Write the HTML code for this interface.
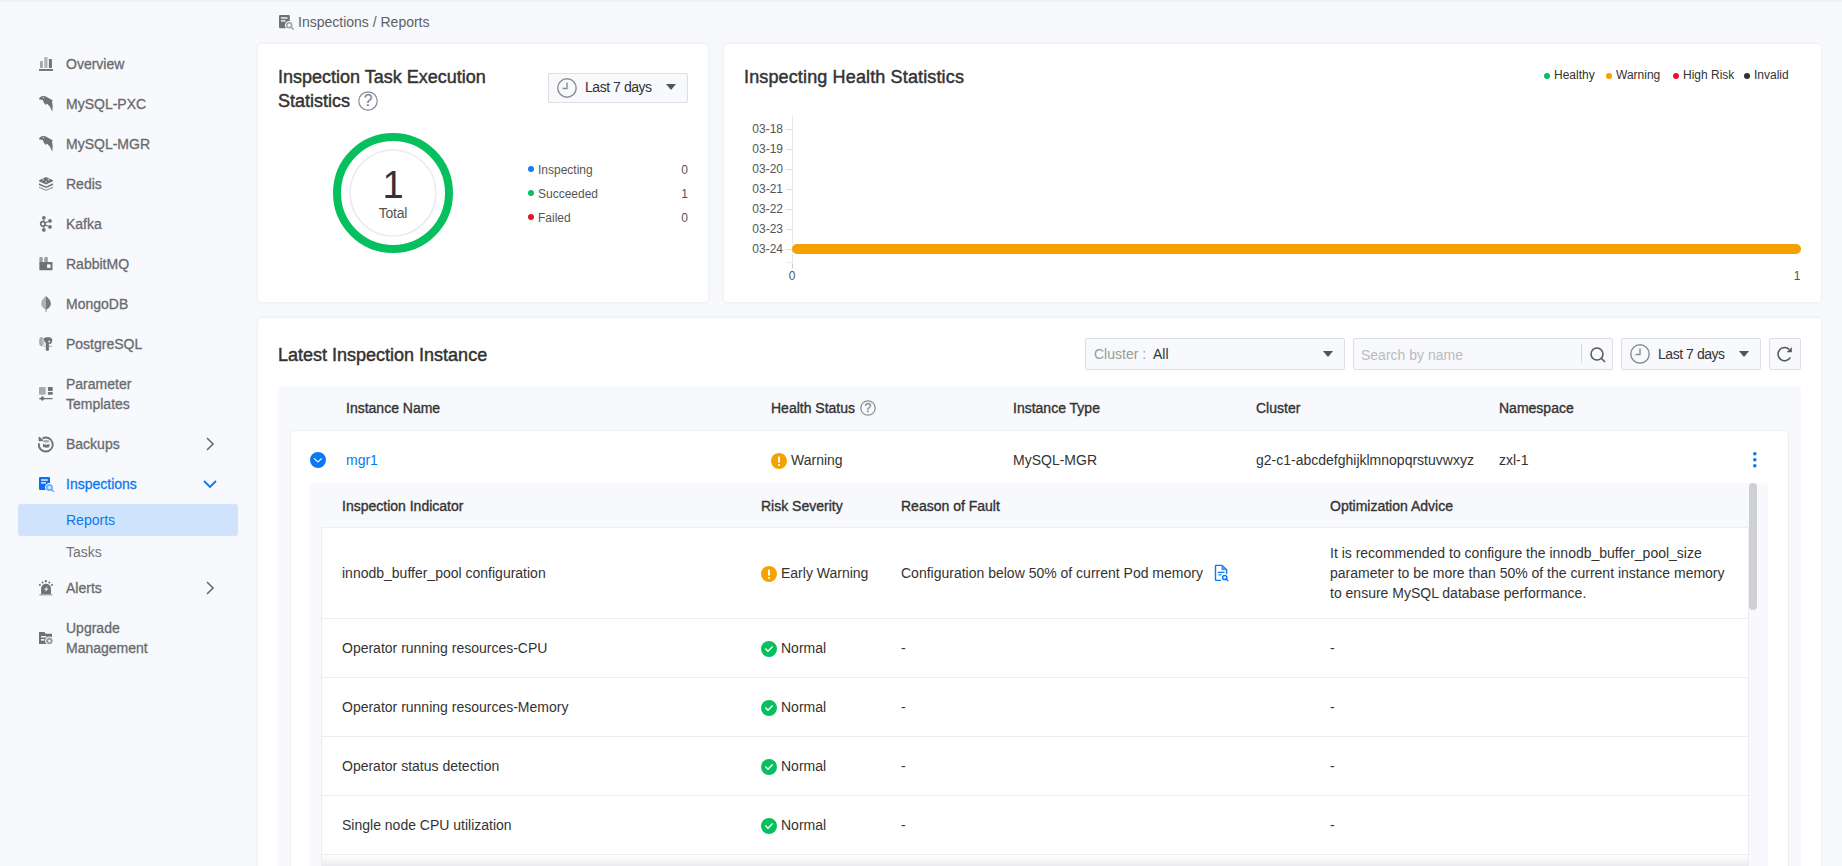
<!DOCTYPE html>
<html><head><meta charset="utf-8"><style>
html,body{margin:0;padding:0;}
body{width:1842px;height:866px;overflow:hidden;position:relative;background:#f7f9fc;font-family:"Liberation Sans",sans-serif;}
.t{position:absolute;white-space:nowrap;}
svg{overflow:visible}
</style></head><body>
<div style="position:absolute;left:0px;top:0px;width:1842px;height:3px;background:linear-gradient(#eceef2,rgba(247,248,251,0))"></div>
<div style="position:absolute;left:18px;top:504px;width:220px;height:32px;background:#cfe3fc;border-radius:3px"></div>
<div class="t" style="left:66px;top:57.15px;font-size:14px;line-height:14px;color:#696a6e;-webkit-text-stroke:0.3px #696a6e;">Overview</div>
<div class="t" style="left:66px;top:97.15px;font-size:14px;line-height:14px;color:#696a6e;-webkit-text-stroke:0.3px #696a6e;">MySQL-PXC</div>
<div class="t" style="left:66px;top:137.15px;font-size:14px;line-height:14px;color:#696a6e;-webkit-text-stroke:0.3px #696a6e;">MySQL-MGR</div>
<div class="t" style="left:66px;top:177.15px;font-size:14px;line-height:14px;color:#696a6e;-webkit-text-stroke:0.3px #696a6e;">Redis</div>
<div class="t" style="left:66px;top:217.15px;font-size:14px;line-height:14px;color:#696a6e;-webkit-text-stroke:0.3px #696a6e;">Kafka</div>
<div class="t" style="left:66px;top:257.15px;font-size:14px;line-height:14px;color:#696a6e;-webkit-text-stroke:0.3px #696a6e;">RabbitMQ</div>
<div class="t" style="left:66px;top:297.15px;font-size:14px;line-height:14px;color:#696a6e;-webkit-text-stroke:0.3px #696a6e;">MongoDB</div>
<div class="t" style="left:66px;top:337.15px;font-size:14px;line-height:14px;color:#696a6e;-webkit-text-stroke:0.3px #696a6e;">PostgreSQL</div>
<div class="t" style="left:66px;top:377.15px;font-size:14px;line-height:14px;color:#696a6e;-webkit-text-stroke:0.3px #696a6e;">Parameter</div>
<div class="t" style="left:66px;top:397.15px;font-size:14px;line-height:14px;color:#696a6e;-webkit-text-stroke:0.3px #696a6e;">Templates</div>
<div class="t" style="left:66px;top:437.15px;font-size:14px;line-height:14px;color:#696a6e;-webkit-text-stroke:0.3px #696a6e;">Backups</div>
<div class="t" style="left:66px;top:477.15px;font-size:14px;line-height:14px;color:#0b78f3;-webkit-text-stroke:0.3px #0b78f3;">Inspections</div>
<div class="t" style="left:66px;top:581.15px;font-size:14px;line-height:14px;color:#696a6e;-webkit-text-stroke:0.3px #696a6e;">Alerts</div>
<div class="t" style="left:66px;top:621.15px;font-size:14px;line-height:14px;color:#696a6e;-webkit-text-stroke:0.3px #696a6e;">Upgrade</div>
<div class="t" style="left:66px;top:641.15px;font-size:14px;line-height:14px;color:#696a6e;-webkit-text-stroke:0.3px #696a6e;">Management</div>
<div class="t" style="left:66px;top:513.15px;font-size:14px;line-height:14px;color:#0b78f3;">Reports</div>
<div class="t" style="left:66px;top:545.15px;font-size:14px;line-height:14px;color:#747579;">Tasks</div>
<svg style="position:absolute;left:205px;top:437px" width="10" height="14" viewBox="0 0 10 14"><path d="M2 1 L8 7 L2 13" fill="none" stroke="#6a6a6a" stroke-width="1.6"/></svg>
<svg style="position:absolute;left:203px;top:479px" width="14" height="10" viewBox="0 0 14 10"><path d="M1 2 L7 8 L13 2" fill="none" stroke="#0b78f3" stroke-width="1.8"/></svg>
<svg style="position:absolute;left:205px;top:581px" width="10" height="14" viewBox="0 0 10 14"><path d="M2 1 L8 7 L2 13" fill="none" stroke="#6a6a6a" stroke-width="1.6"/></svg>
<svg style="position:absolute;left:39px;top:57px" width="14" height="14" viewBox="0 0 14 14"><rect x="0" y="12" width="14" height="1.9" fill="#707175"/><rect x="1" y="3.9" width="2.9" height="7" rx=".5" fill="#a7a8ac"/><rect x="5.3" y="0" width="3.2" height="10.9" rx=".5" fill="#b2b3b7"/><rect x="9.9" y="2" width="3" height="8.9" rx=".5" fill="#707175"/></svg>
<svg style="position:absolute;left:39px;top:96px" width="14" height="16" viewBox="0 0 14 16"><path d="M0 2.7 C1 1.2 2.5 0.1 4 0.1 C6 0.1 7.5 0.8 9 1.8 L14 4.4 L12.8 5.7 C13.8 8 14 11 13.2 15.8 C12 12.5 11 10.5 9.5 9.2 L8.5 7.8 L6.7 8.7 L4.8 6.8 L3.9 4 L0.2 3.6 Z" fill="#707175"/><circle cx="4.4" cy="1.6" r=".7" fill="#f7f8fb"/></svg>
<svg style="position:absolute;left:39px;top:136px" width="14" height="16" viewBox="0 0 14 16"><path d="M0 2.7 C1 1.2 2.5 0.1 4 0.1 C6 0.1 7.5 0.8 9 1.8 L14 4.4 L12.8 5.7 C13.8 8 14 11 13.2 15.8 C12 12.5 11 10.5 9.5 9.2 L8.5 7.8 L6.7 8.7 L4.8 6.8 L3.9 4 L0.2 3.6 Z" fill="#707175"/><circle cx="4.4" cy="1.6" r=".7" fill="#f7f8fb"/></svg>
<svg style="position:absolute;left:39px;top:177px" width="14" height="14" viewBox="0 0 14 14"><path d="M7 0 L14 3.3 L14 4.3 L7 7.6 L0 4.3 L0 3.3 Z" fill="#707175"/><circle cx="4.2" cy="2.7" r=".9" fill="#c9cacd"/><circle cx="9.5" cy="2.7" r=".9" fill="#c9cacd"/><circle cx="7" cy="4.8" r=".9" fill="#c9cacd"/><path d="M0 6.3 L7 9.5 L14 6.3 L14 7.9 L7 11.1 L0 7.9 Z" fill="#707175"/><path d="M0 9.6 L7 12.6 L14 9.6 L14 11 L7 14 L0 11 Z" fill="#a7a8ac"/></svg>
<svg style="position:absolute;left:39px;top:216px" width="14" height="16" viewBox="0 0 14 16"><circle cx="4.85" cy="1.85" r="1.85" fill="#707175"/><circle cx="4.85" cy="13.9" r="1.85" fill="#707175"/><circle cx="3.9" cy="7.9" r="2.2" fill="none" stroke="#707175" stroke-width="1.8"/><circle cx="11" cy="4.9" r="1.85" fill="#707175"/><circle cx="11" cy="10.9" r="1.85" fill="#707175"/><path d="M4.7 3.5 V5.8 M4.7 10 V12.2 M5.8 7 L9.5 5.5 M5.8 8.8 L9.5 10.3" stroke="#707175" stroke-width="1.1"/></svg>
<svg style="position:absolute;left:39px;top:257px" width="14" height="14" viewBox="0 0 14 14"><rect x=".35" y="0" width="3.35" height="5.5" rx="1" fill="#9c9da1"/><rect x="5.3" y="0" width="3.5" height="5.5" rx="1" fill="#9c9da1"/><rect x=".35" y="4.9" width="13.15" height="8.3" rx=".6" fill="#707175"/><rect x="8.1" y="7.4" width="3.4" height="3.5" fill="#fff"/></svg>
<svg style="position:absolute;left:39px;top:296px" width="14" height="16" viewBox="0 0 14 16"><path d="M7 0 C9.5 2 11.9 4.8 11.9 7.8 C11.9 10.5 9.5 12.6 7 13.7 Z" fill="#77787c"/><path d="M7 0 C4.5 2 2.1 4.8 2.1 7.8 C2.1 10.5 4.5 12.6 7 13.7 Z" fill="#afb0b4"/><rect x="6.3" y="13" width="1.4" height="2.8" fill="#a0a1a5"/></svg>
<svg style="position:absolute;left:39px;top:337px" width="14" height="14" viewBox="0 0 14 14"><ellipse cx="2.4" cy="4.6" rx="2.3" ry="4.7" fill="#a9aaae"/><rect x="3.3" y="1.5" width="2" height="6" fill="#c4c5c8"/><path d="M4.6 1.6 C5.5 0.3 8 0 10 0.2 C12 0.4 13.4 1.5 13.3 3.5 C13.2 5.5 12.3 6.5 11.2 7.2 L9.9 6.5 L9.9 13 C9.9 14.2 6.8 14.2 6.8 13 L6.8 5.8 C5.8 5.2 5 4 4.6 1.6 Z" fill="#707175"/><circle cx="10.2" cy="4.6" r="1.1" fill="#d8d9dc"/><path d="M9.9 9.3 H13.2" stroke="#a9aaae" stroke-width="1"/><circle cx="5.3" cy="9.3" r=".8" fill="#a9aaae"/></svg>
<svg style="position:absolute;left:39px;top:387px" width="14" height="14" viewBox="0 0 14 14"><rect x="0" y="0" width="6.6" height="7.7" rx=".4" fill="#a9aaae"/><rect x="8.9" y="0" width="4.8" height="3.9" rx=".4" fill="#707175"/><rect x="8.9" y="5" width="4.8" height="2.8" rx=".4" fill="#707175"/><rect x="0" y="10.9" width="13.7" height="1.3" rx=".6" fill="#707175"/><path d="M3.4 9 L5.9 11.5 L3.4 14 L0.9 11.5 Z" fill="#707175"/></svg>
<svg style="position:absolute;left:38px;top:436px" width="16" height="16" viewBox="0 0 16 16"><path d="M0.9 7.2 A7 7 0 1 0 4.6 2.3" fill="none" stroke="#707175" stroke-width="1.9"/><path d="M1.1 1 L1.1 4.9 L5 4.4 Z" fill="#707175" stroke="#707175" stroke-width="1" stroke-linejoin="round"/><ellipse cx="8.2" cy="5.3" rx="3.2" ry="1.3" fill="#a9aaae"/><path d="M5 7.5 V10.6 C5 12.2 11.4 12.2 11.4 10.6 V7.5 C11.4 9 5 9 5 7.5 Z" fill="#707175"/></svg>
<svg style="position:absolute;left:39px;top:477px" width="16" height="16" viewBox="0 0 16 16"><defs><mask id="mi"><rect width="16" height="16" fill="#fff"/><circle cx="10.4" cy="10.5" r="4.4" fill="#000"/></mask></defs><rect x="0" y="0" width="11" height="13" rx="1.2" fill="#0a70f0" mask="url(#mi)"/><rect x="2.1" y="2.3" width="6.7" height="1.4" fill="#f7f8fb"/><rect x="2.1" y="5.2" width="4.8" height="1.4" fill="#f7f8fb"/><circle cx="10.4" cy="10.5" r="2.1" fill="#cfe4fd"/><circle cx="10.4" cy="10.5" r="2.65" fill="none" stroke="#72adf9" stroke-width="1.7"/><path d="M12.5 12.6 L14.6 14.5" stroke="#72adf9" stroke-width="1.6" stroke-linecap="round"/></svg>
<svg style="position:absolute;left:39px;top:580px" width="14" height="16" viewBox="0 0 14 16"><path d="M2.1 14 V8.8 A4.95 4.95 0 0 1 12 8.8 V14 Z" fill="#707175"/><path d="M8.9 5.9 L4.9 9.7 L7.3 9.7 L5.6 12.6 L9.6 8.6 L7.3 8.6 Z" fill="#f3f4f6"/><rect x="0.2" y="13.9" width="13.4" height="1.7" rx=".8" fill="#a9aaae"/><circle cx="6.9" cy="1.2" r="1.15" fill="#707175"/><circle cx="3.5" cy="2.5" r="1" fill="#707175"/><circle cx="10.4" cy="2.5" r="1" fill="#707175"/><circle cx="0.9" cy="5.1" r="1" fill="#707175"/><circle cx="13" cy="5.1" r="1" fill="#707175"/></svg>
<svg style="position:absolute;left:39px;top:631px" width="14" height="14" viewBox="0 0 14 14"><defs><mask id="mu"><rect width="16" height="16" fill="#fff"/><circle cx="10.4" cy="9.9" r="4.3" fill="#000"/></mask></defs><path d="M0 0.9 H5.5 L6.6 2.8 H13 V12.9 H0 Z" fill="#707175" mask="url(#mu)"/><rect x="2" y="5" width="5.4" height="1.5" fill="#f7f8fb"/><rect x="2" y="8.1" width="3.5" height="1.5" fill="#f7f8fb"/><circle cx="10.4" cy="9.9" r="2.2" fill="none" stroke="#9c9da1" stroke-width="1.9"/><path d="M10.4 6.5 V7.5 M10.4 12.3 V13.3 M7 9.9 H8 M12.8 9.9 H13.8" stroke="#9c9da1" stroke-width="1.2"/></svg>
<svg style="position:absolute;left:279px;top:15px" width="16" height="16" viewBox="0 0 16 16"><defs><mask id="mb"><rect width="16" height="16" fill="#fff"/><circle cx="10.2" cy="10.3" r="4.3" fill="#000"/></mask></defs><rect x="0" y="0" width="10.8" height="13.2" rx="1.1" fill="#707175" mask="url(#mb)"/><rect x="2" y="2.3" width="6.5" height="1.4" fill="#f7f8fb"/><rect x="2" y="5.2" width="4.5" height="1.4" fill="#f7f8fb"/><circle cx="10.2" cy="10.3" r="2.5" fill="none" stroke="#a0a1a5" stroke-width="1.6"/><path d="M12.2 12.3 L14.3 14.3" stroke="#a0a1a5" stroke-width="1.5" stroke-linecap="round"/></svg>
<div class="t" style="left:298px;top:15.15px;font-size:14px;line-height:14px;color:#5e6066;">Inspections / Reports</div>
<div style="position:absolute;background:#fff;border-radius:4px;box-shadow:0 0 3px rgba(20,30,60,0.10);left:258px;top:44px;width:450px;height:258px"></div>
<div style="position:absolute;background:#fff;border-radius:4px;box-shadow:0 0 3px rgba(20,30,60,0.10);left:724px;top:44px;width:1097px;height:258px"></div>
<div style="position:absolute;background:#fff;border-radius:4px;box-shadow:0 0 3px rgba(20,30,60,0.10);left:258px;top:318px;width:1563px;height:600px"></div>
<div class="t" style="left:278px;top:67.76px;font-size:18px;line-height:18px;color:#333333;-webkit-text-stroke:0.45px #333333;">Inspection Task Execution</div>
<div class="t" style="left:278px;top:91.76px;font-size:18px;line-height:18px;color:#333333;-webkit-text-stroke:0.45px #333333;">Statistics</div>
<svg style="position:absolute;left:358px;top:91px" width="20" height="20" viewBox="0 0 20 20"><circle cx="10.0" cy="10.0" r="9.2" fill="none" stroke="#8a8b8f" stroke-width="1.2"/><text x="10.0" y="15.2" text-anchor="middle" font-family="Liberation Sans" font-size="15.600000000000001" fill="#8a8b8f" stroke="#8a8b8f" stroke-width="0.3">?</text></svg>
<div style="position:absolute;left:548px;top:73px;width:138px;height:28px;background:#f7f9fc;border:1px solid #dcdee3;border-radius:2px"></div>
<svg style="position:absolute;left:557px;top:78px" width="20" height="20" viewBox="0 0 20 20"><circle cx="10" cy="10" r="9.2" fill="none" stroke="#8c8d91" stroke-width="1.4"/><path d="M10 4.5 V10.5 H5.5" fill="none" stroke="#8c8d91" stroke-width="1.4"/></svg>
<div class="t" style="left:585px;top:80.15px;font-size:14px;line-height:14px;color:#333333;letter-spacing:-0.45px;">Last 7 days</div>
<svg style="position:absolute;left:666px;top:84px" width="10" height="6" viewBox="0 0 10 6"><path d="M0 0 H10 L5 6 Z" fill="#555"/></svg>
<svg style="position:absolute;left:333px;top:133px" width="120" height="120" viewBox="0 0 120 120"><circle cx="60" cy="60" r="56" fill="none" stroke="#06c05e" stroke-width="8"/><circle cx="60" cy="60" r="43" fill="none" stroke="#e9e9ef" stroke-width="1.5"/></svg>
<div class="t" style="left:93px;width:600px;text-align:center;top:165.83px;font-size:38px;line-height:38px;color:#333333;">1</div>
<div class="t" style="left:93px;width:600px;text-align:center;top:206.15px;font-size:14px;line-height:14px;color:#555;letter-spacing:-0.2px;">Total</div>
<svg style="position:absolute;left:528px;top:166px" width="6" height="6" viewBox="0 0 6 6"><circle cx="3" cy="3" r="3" fill="#1a7af8"/></svg>
<div class="t" style="left:538px;top:164.14px;font-size:12px;line-height:12px;color:#555;">Inspecting</div>
<div class="t" style="right:1154px;text-align:right;top:164.14px;font-size:12px;line-height:12px;color:#555;">0</div>
<svg style="position:absolute;left:528px;top:190px" width="6" height="6" viewBox="0 0 6 6"><circle cx="3" cy="3" r="3" fill="#06c05e"/></svg>
<div class="t" style="left:538px;top:188.14px;font-size:12px;line-height:12px;color:#555;">Succeeded</div>
<div class="t" style="right:1154px;text-align:right;top:188.14px;font-size:12px;line-height:12px;color:#555;">1</div>
<svg style="position:absolute;left:528px;top:214px" width="6" height="6" viewBox="0 0 6 6"><circle cx="3" cy="3" r="3" fill="#e8112d"/></svg>
<div class="t" style="left:538px;top:212.14px;font-size:12px;line-height:12px;color:#555;">Failed</div>
<div class="t" style="right:1154px;text-align:right;top:212.14px;font-size:12px;line-height:12px;color:#555;">0</div>
<div class="t" style="left:744px;top:67.76px;font-size:18px;line-height:18px;color:#333333;-webkit-text-stroke:0.45px #333333;letter-spacing:0.14px;">Inspecting Health Statistics</div>
<svg style="position:absolute;left:1544px;top:73px" width="6" height="6" viewBox="0 0 6 6"><circle cx="3" cy="3" r="3" fill="#06c05e"/></svg>
<div class="t" style="left:1554px;top:69.34px;font-size:12px;line-height:12px;color:#333333;">Healthy</div>
<svg style="position:absolute;left:1606px;top:73px" width="6" height="6" viewBox="0 0 6 6"><circle cx="3" cy="3" r="3" fill="#f5a100"/></svg>
<div class="t" style="left:1616px;top:69.34px;font-size:12px;line-height:12px;color:#333333;">Warning</div>
<svg style="position:absolute;left:1673px;top:73px" width="6" height="6" viewBox="0 0 6 6"><circle cx="3" cy="3" r="3" fill="#e8112d"/></svg>
<div class="t" style="left:1683px;top:69.34px;font-size:12px;line-height:12px;color:#333333;">High Risk</div>
<svg style="position:absolute;left:1744px;top:73px" width="6" height="6" viewBox="0 0 6 6"><circle cx="3" cy="3" r="3" fill="#333"/></svg>
<div class="t" style="left:1754px;top:69.34px;font-size:12px;line-height:12px;color:#333333;">Invalid</div>
<div style="position:absolute;left:792px;top:116px;width:1px;height:150px;background:#e6e8ee"></div>
<div class="t" style="right:1059px;text-align:right;top:123.34px;font-size:12px;line-height:12px;color:#555;">03-18</div>
<div style="position:absolute;left:786px;top:129px;width:6px;height:1px;background:#e0e2e8"></div>
<div class="t" style="right:1059px;text-align:right;top:143.34px;font-size:12px;line-height:12px;color:#555;">03-19</div>
<div style="position:absolute;left:786px;top:149px;width:6px;height:1px;background:#e0e2e8"></div>
<div class="t" style="right:1059px;text-align:right;top:163.34px;font-size:12px;line-height:12px;color:#555;">03-20</div>
<div style="position:absolute;left:786px;top:169px;width:6px;height:1px;background:#e0e2e8"></div>
<div class="t" style="right:1059px;text-align:right;top:183.34px;font-size:12px;line-height:12px;color:#555;">03-21</div>
<div style="position:absolute;left:786px;top:189px;width:6px;height:1px;background:#e0e2e8"></div>
<div class="t" style="right:1059px;text-align:right;top:203.34px;font-size:12px;line-height:12px;color:#555;">03-22</div>
<div style="position:absolute;left:786px;top:209px;width:6px;height:1px;background:#e0e2e8"></div>
<div class="t" style="right:1059px;text-align:right;top:223.34px;font-size:12px;line-height:12px;color:#555;">03-23</div>
<div style="position:absolute;left:786px;top:229px;width:6px;height:1px;background:#e0e2e8"></div>
<div class="t" style="right:1059px;text-align:right;top:243.34px;font-size:12px;line-height:12px;color:#555;">03-24</div>
<div style="position:absolute;left:786px;top:249px;width:6px;height:1px;background:#e0e2e8"></div>
<div style="position:absolute;left:786px;top:262px;width:6px;height:1px;background:#eceef2"></div>
<div style="position:absolute;left:792px;top:264px;width:1px;height:4px;background:#c9cbd0"></div>
<div style="position:absolute;left:792px;top:244px;width:1009px;height:10px;background:#f5a100;border-radius:5px"></div>
<div class="t" style="left:492px;width:600px;text-align:center;top:269.84px;font-size:12px;line-height:12px;color:#555;">0</div>
<div class="t" style="left:1497px;width:600px;text-align:center;top:269.84px;font-size:12px;line-height:12px;color:#555;">1</div>
<div class="t" style="left:278px;top:345.96px;font-size:18px;line-height:18px;color:#333333;-webkit-text-stroke:0.45px #333333;">Latest Inspection Instance</div>
<div style="position:absolute;left:1085px;top:338px;width:258px;height:30px;background:#f7f9fc;border:1px solid #dcdee3;border-radius:2px"></div>
<div class="t" style="left:1094px;top:347.15px;font-size:14px;line-height:14px;color:#999;">Cluster :</div>
<div class="t" style="left:1153px;top:347.15px;font-size:14px;line-height:14px;color:#333333;">All</div>
<svg style="position:absolute;left:1323px;top:351px" width="10" height="6" viewBox="0 0 10 6"><path d="M0 0 H10 L5 6 Z" fill="#555"/></svg>
<div style="position:absolute;left:1353px;top:338px;width:258px;height:30px;background:#f7f9fc;border:1px solid #dcdee3;border-radius:2px"></div>
<div class="t" style="left:1361px;top:348.15px;font-size:14px;line-height:14px;color:#bbbbbb;">Search by name</div>
<div style="position:absolute;left:1581px;top:344px;width:1px;height:19px;background:#d6d8dd"></div>
<svg style="position:absolute;left:1589.6px;top:346.7px" width="16" height="16" viewBox="0 0 16 16"><circle cx="7" cy="7" r="6" fill="none" stroke="#555" stroke-width="1.5"/><path d="M11.2 11.2 L15 15" stroke="#555" stroke-width="1.5"/></svg>
<div style="position:absolute;left:1621px;top:338px;width:138px;height:30px;background:#f7f9fc;border:1px solid #dcdee3;border-radius:2px"></div>
<svg style="position:absolute;left:1630px;top:344px" width="20" height="20" viewBox="0 0 20 20"><circle cx="10" cy="10" r="9.2" fill="none" stroke="#8c8d91" stroke-width="1.4"/><path d="M10 4.5 V10.5 H5.5" fill="none" stroke="#8c8d91" stroke-width="1.4"/></svg>
<div class="t" style="left:1658px;top:347.15px;font-size:14px;line-height:14px;color:#333333;letter-spacing:-0.45px;">Last 7 days</div>
<svg style="position:absolute;left:1739px;top:351px" width="10" height="6" viewBox="0 0 10 6"><path d="M0 0 H10 L5 6 Z" fill="#555"/></svg>
<div style="position:absolute;left:1769px;top:338px;width:30px;height:30px;background:#f7f9fc;border:1px solid #dcdee3;border-radius:2px"></div>
<svg style="position:absolute;left:1772px;top:342px" width="26" height="26" viewBox="0 0 26 26"><path d="M18.4 15.4 A6.6 6.6 0 1 1 17.2 7.4" fill="none" stroke="#555" stroke-width="1.5"/><path d="M19.8 5.2 L19.8 10.3 L14.6 10.3 Z" fill="#555"/></svg>
<div style="position:absolute;left:278px;top:386px;width:1523px;height:600px;background:#f7f9fc;border-radius:4px"></div>
<div class="t" style="left:346px;top:401.15px;font-size:14px;line-height:14px;color:#333333;-webkit-text-stroke:0.35px #333333;">Instance Name</div>
<div class="t" style="left:771px;top:401.15px;font-size:14px;line-height:14px;color:#333333;-webkit-text-stroke:0.35px #333333;">Health Status</div>
<svg style="position:absolute;left:860px;top:400px" width="16" height="16" viewBox="0 0 16 16"><circle cx="8.0" cy="8.0" r="7.2" fill="none" stroke="#8a8b8f" stroke-width="1.2"/><text x="8.0" y="12.16" text-anchor="middle" font-family="Liberation Sans" font-size="12.48" fill="#8a8b8f" stroke="#8a8b8f" stroke-width="0.3">?</text></svg>
<div class="t" style="left:1013px;top:401.15px;font-size:14px;line-height:14px;color:#333333;-webkit-text-stroke:0.35px #333333;">Instance Type</div>
<div class="t" style="left:1256px;top:401.15px;font-size:14px;line-height:14px;color:#333333;-webkit-text-stroke:0.35px #333333;">Cluster</div>
<div class="t" style="left:1499px;top:401.15px;font-size:14px;line-height:14px;color:#333333;-webkit-text-stroke:0.35px #333333;">Namespace</div>
<div style="position:absolute;left:290px;top:430px;width:1497px;height:600px;background:#fff;border:1px solid #eceef2;border-radius:4px"></div>
<svg style="position:absolute;left:310px;top:452px" width="16" height="16" viewBox="0 0 16 16"><circle cx="8" cy="8" r="8" fill="#0b78f3"/><path d="M4 6.4 L7.9 9.9 L11.8 6.4" fill="none" stroke="#fff" stroke-width="1.2"/></svg>
<div class="t" style="left:346px;top:453.15px;font-size:14px;line-height:14px;color:#0b78f3;">mgr1</div>
<svg style="position:absolute;left:771px;top:453px" width="16" height="16" viewBox="0 0 16 16"><circle cx="8" cy="8" r="8" fill="#f5a100"/><rect x="7" y="3.5" width="2" height="6" rx=".6" fill="#fff"/><rect x="7" y="11" width="2" height="1.8" fill="#fff"/></svg>
<div class="t" style="left:791px;top:453.15px;font-size:14px;line-height:14px;color:#333333;">Warning</div>
<div class="t" style="left:1013px;top:453.15px;font-size:14px;line-height:14px;color:#333333;">MySQL-MGR</div>
<div class="t" style="left:1256px;top:453.15px;font-size:14px;line-height:14px;color:#333333;">g2-c1-abcdefghijklmnopqrstuvwxyz</div>
<div class="t" style="left:1499px;top:453.15px;font-size:14px;line-height:14px;color:#333333;">zxl-1</div>
<svg style="position:absolute;left:1752.8px;top:451.8px" width="3.6" height="3.6" viewBox="0 0 3.6 3.6"><circle cx="1.8" cy="1.8" r="1.8" fill="#0b78f3"/></svg>
<svg style="position:absolute;left:1752.8px;top:458.0px" width="3.6" height="3.6" viewBox="0 0 3.6 3.6"><circle cx="1.8" cy="1.8" r="1.8" fill="#0b78f3"/></svg>
<svg style="position:absolute;left:1752.8px;top:464.3px" width="3.6" height="3.6" viewBox="0 0 3.6 3.6"><circle cx="1.8" cy="1.8" r="1.8" fill="#0b78f3"/></svg>
<div style="position:absolute;left:310px;top:483px;width:1458px;height:600px;background:#f7f9fc;border-radius:4px"></div>
<div class="t" style="left:342px;top:499.15px;font-size:14px;line-height:14px;color:#333333;-webkit-text-stroke:0.35px #333333;">Inspection Indicator</div>
<div class="t" style="left:761px;top:499.15px;font-size:14px;line-height:14px;color:#333333;-webkit-text-stroke:0.35px #333333;">Risk Severity</div>
<div class="t" style="left:901px;top:499.15px;font-size:14px;line-height:14px;color:#333333;-webkit-text-stroke:0.35px #333333;">Reason of Fault</div>
<div class="t" style="left:1330px;top:499.15px;font-size:14px;line-height:14px;color:#333333;-webkit-text-stroke:0.35px #333333;">Optimization Advice</div>
<div style="position:absolute;left:322px;top:527px;width:1426px;height:600px;background:#fff"></div>
<div style="position:absolute;left:322px;top:527px;width:1426px;height:1px;background:#eceef2"></div>
<div style="position:absolute;left:322px;top:618px;width:1426px;height:1px;background:#ebedf0"></div>
<div style="position:absolute;left:322px;top:677px;width:1426px;height:1px;background:#ebedf0"></div>
<div style="position:absolute;left:322px;top:736px;width:1426px;height:1px;background:#ebedf0"></div>
<div style="position:absolute;left:322px;top:795px;width:1426px;height:1px;background:#ebedf0"></div>
<div style="position:absolute;left:322px;top:854px;width:1426px;height:1px;background:#ebedf0"></div>
<div style="position:absolute;left:1749px;top:483px;width:8px;height:127px;background:#cfd0d4;border-radius:4px"></div>
<div class="t" style="left:342px;top:566.15px;font-size:14px;line-height:14px;color:#333333;">innodb_buffer_pool configuration</div>
<svg style="position:absolute;left:761px;top:566px" width="16" height="16" viewBox="0 0 16 16"><circle cx="8" cy="8" r="8" fill="#f5a100"/><rect x="7" y="3.5" width="2" height="6" rx=".6" fill="#fff"/><rect x="7" y="11" width="2" height="1.8" fill="#fff"/></svg>
<div class="t" style="left:781px;top:566.15px;font-size:14px;line-height:14px;color:#333333;">Early Warning</div>
<div class="t" style="left:901px;top:566.15px;font-size:14px;line-height:14px;color:#333333;">Configuration below 50% of current Pod memory</div>
<svg style="position:absolute;left:1210px;top:561px" width="24" height="24" viewBox="0 0 24 24"><path d="M10.5 19.4 H6.2 Q5.5 19.4 5.5 18.7 V5.1 Q5.5 4.4 6.2 4.4 H12 L16.6 8.8 V12.5" fill="none" stroke="#0b78f3" stroke-width="1.4" stroke-linecap="round" stroke-linejoin="round"/><path d="M11.4 5 V9.3 H16 Z" fill="#0b78f3" opacity=".75"/><path d="M8.3 11.4 H13.9" stroke="#0b78f3" stroke-width="1.3" stroke-linecap="round"/><path d="M8.3 13.7 H11.6" stroke="#0b78f3" stroke-width="1.6" opacity=".75"/><circle cx="14.7" cy="16.5" r="2.1" fill="none" stroke="#0b78f3" stroke-width="1.5"/><path d="M16.3 18.1 L17.8 19.5" stroke="#0b78f3" stroke-width="1.5" stroke-linecap="round"/></svg>
<div class="t" style="left:1330px;top:546.15px;font-size:14px;line-height:14px;color:#333333;">It is recommended to configure the innodb_buffer_pool_size</div>
<div class="t" style="left:1330px;top:566.15px;font-size:14px;line-height:14px;color:#333333;">parameter to be more than 50% of the current instance memory</div>
<div class="t" style="left:1330px;top:586.15px;font-size:14px;line-height:14px;color:#333333;">to ensure MySQL database performance.</div>
<div class="t" style="left:342px;top:641.15px;font-size:14px;line-height:14px;color:#333333;">Operator running resources-CPU</div>
<svg style="position:absolute;left:761px;top:641px" width="16" height="16" viewBox="0 0 16 16"><circle cx="8" cy="8" r="8" fill="#06c05e"/><path d="M4.4 7.6 L7 10.2 L11.6 5.6" fill="none" stroke="#fff" stroke-width="1.4"/></svg>
<div class="t" style="left:781px;top:641.15px;font-size:14px;line-height:14px;color:#333333;">Normal</div>
<div class="t" style="left:901px;top:641.15px;font-size:14px;line-height:14px;color:#333333;">-</div>
<div class="t" style="left:1330px;top:641.15px;font-size:14px;line-height:14px;color:#333333;">-</div>
<div class="t" style="left:342px;top:700.15px;font-size:14px;line-height:14px;color:#333333;">Operator running resources-Memory</div>
<svg style="position:absolute;left:761px;top:700px" width="16" height="16" viewBox="0 0 16 16"><circle cx="8" cy="8" r="8" fill="#06c05e"/><path d="M4.4 7.6 L7 10.2 L11.6 5.6" fill="none" stroke="#fff" stroke-width="1.4"/></svg>
<div class="t" style="left:781px;top:700.15px;font-size:14px;line-height:14px;color:#333333;">Normal</div>
<div class="t" style="left:901px;top:700.15px;font-size:14px;line-height:14px;color:#333333;">-</div>
<div class="t" style="left:1330px;top:700.15px;font-size:14px;line-height:14px;color:#333333;">-</div>
<div class="t" style="left:342px;top:759.15px;font-size:14px;line-height:14px;color:#333333;">Operator status detection</div>
<svg style="position:absolute;left:761px;top:759px" width="16" height="16" viewBox="0 0 16 16"><circle cx="8" cy="8" r="8" fill="#06c05e"/><path d="M4.4 7.6 L7 10.2 L11.6 5.6" fill="none" stroke="#fff" stroke-width="1.4"/></svg>
<div class="t" style="left:781px;top:759.15px;font-size:14px;line-height:14px;color:#333333;">Normal</div>
<div class="t" style="left:901px;top:759.15px;font-size:14px;line-height:14px;color:#333333;">-</div>
<div class="t" style="left:1330px;top:759.15px;font-size:14px;line-height:14px;color:#333333;">-</div>
<div class="t" style="left:342px;top:818.15px;font-size:14px;line-height:14px;color:#333333;">Single node CPU utilization</div>
<svg style="position:absolute;left:761px;top:818px" width="16" height="16" viewBox="0 0 16 16"><circle cx="8" cy="8" r="8" fill="#06c05e"/><path d="M4.4 7.6 L7 10.2 L11.6 5.6" fill="none" stroke="#fff" stroke-width="1.4"/></svg>
<div class="t" style="left:781px;top:818.15px;font-size:14px;line-height:14px;color:#333333;">Normal</div>
<div class="t" style="left:901px;top:818.15px;font-size:14px;line-height:14px;color:#333333;">-</div>
<div class="t" style="left:1330px;top:818.15px;font-size:14px;line-height:14px;color:#333333;">-</div>
<div style="position:absolute;left:322px;top:855px;width:1426px;height:11px;background:linear-gradient(#ffffff,#ececee)"></div>
<div style="position:absolute;left:321px;top:527px;width:1px;height:340px;background:#eceef2"></div>
<div style="position:absolute;left:1748px;top:527px;width:1px;height:340px;background:#eceef2"></div>
</body></html>
